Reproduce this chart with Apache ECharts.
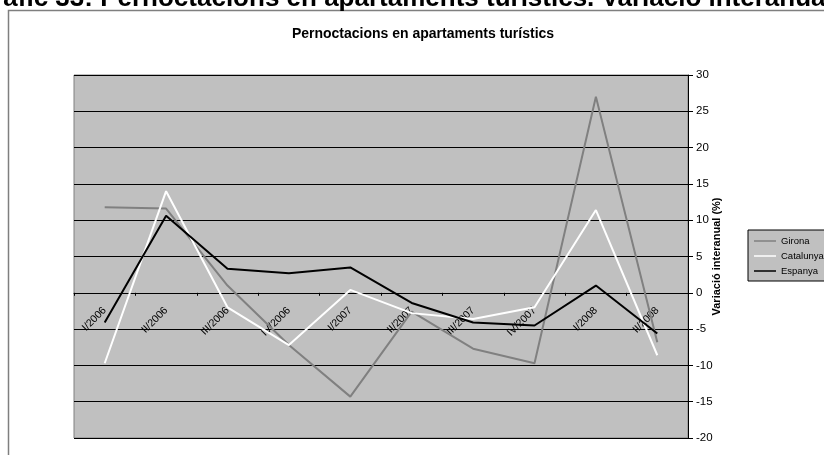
<!DOCTYPE html>
<html><head><meta charset="utf-8">
<script src="https://cdn.jsdelivr.net/npm/echarts@6/dist/echarts.min.js"></script>
<style>html,body{margin:0;padding:0;background:#fff}#c{width:824px;height:455px}</style>
</head><body><div id="c"></div>
<script>
var categories = ["I/2006","II/2006","III/2006","IV/2006","I/2007","II/2007","III/2007","IV/2007","I/2008","II/2008"];
var girona    = [11.8, 11.6, 1.0, -7.2, -14.3, -2.6, -7.7, -9.7, 27.0, -6.8];
var catalunya = [-9.7, 14.0, -2.0, -7.2, 0.4, -2.8, -3.6, -2.0, 11.4, -8.6];
var espanya   = [-4.1, 10.6, 3.3, 2.7, 3.5, -1.4, -4.1, -4.5, 1.0, -5.6];
var yTicks = {min: -20, max: 30, step: 5};
var F = '"Liberation Sans", Arial, sans-serif';

var chart = echarts.init(document.getElementById('c'), null, {renderer: 'canvas'});
chart.setOption({
  animation: false,
  textStyle: {fontFamily: F},
  graphic: [
    {type: 'rect', z: -10, shape: {x: 8.5, y: 10.5, width: 830, height: 460},
     style: {fill: 'none', stroke: '#7f7f7f', lineWidth: 1.5}},
    {type: 'text', left: -27, top: -14,
     style: {text: 'Gràfic 33: Pernoctacions en apartaments turístics. Variació interanual', font: 'bold 26px ' + F, fill: '#000'}}
  ],
  title: {
    text: 'Pernoctacions en apartaments turístics',
    left: 418, top: 22, textAlign: 'center',
    textStyle: {fontSize: 14, fontWeight: 'bold', color: '#000', fontFamily: F}
  },
  legend: {
    orient: 'vertical', left: 748, top: 230,
    backgroundColor: '#c0c0c0', borderColor: '#000', borderWidth: 1,
    padding: [6, 20, 5, 6], itemGap: 5, itemWidth: 22, itemHeight: 1.5,
    icon: 'rect',
    textStyle: {fontSize: 9.5, color: '#000', fontFamily: F},
    data: ['Girona', 'Catalunya', 'Espanya']
  },
  grid: {left: 74, right: 136, top: 75, bottom: 17, show: true,
         backgroundColor: '#c0c0c0', borderColor: '#808080', borderWidth: 1},
  xAxis: {
    type: 'category', data: categories, boundaryGap: true, position: 'bottom', offset: -145.2,
    axisLine: {onZero: false, lineStyle: {color: '#000', width: 1}},
    axisTick: {show: true, length: 3, lineStyle: {color: '#000'}},
    axisLabel: {rotate: 45, fontSize: 10.5, color: '#000', margin: 16, fontFamily: F},
    splitLine: {show: false}
  },
  yAxis: {
    type: 'value', position: 'right', min: yTicks.min, max: yTicks.max, interval: yTicks.step,
    name: 'Variació interanual (%)', nameLocation: 'middle', nameGap: 23, nameRotate: 90,
    nameMoveOverlap: false,
    nameTextStyle: {fontSize: 11, fontWeight: 'bold', color: '#000', fontFamily: F},
    axisLine: {show: true, lineStyle: {color: '#000'}},
    axisTick: {show: true, length: 5, lineStyle: {color: '#000'}},
    axisLabel: {fontSize: 11.5, color: '#000', margin: 8, fontFamily: F},
    splitLine: {show: true, lineStyle: {color: '#000', width: 1}}
  },
  series: [
    {name: 'Girona', type: 'line', data: girona, symbol: 'none', lineStyle: {color: '#808080', width: 2}, itemStyle: {color: '#808080'}},
    {name: 'Catalunya', type: 'line', data: catalunya, symbol: 'none', lineStyle: {color: '#ffffff', width: 2}, itemStyle: {color: '#ffffff'}},
    {name: 'Espanya', type: 'line', data: espanya, symbol: 'none', lineStyle: {color: '#000000', width: 2}, itemStyle: {color: '#000000'}}
  ]
});
</script></body></html>
